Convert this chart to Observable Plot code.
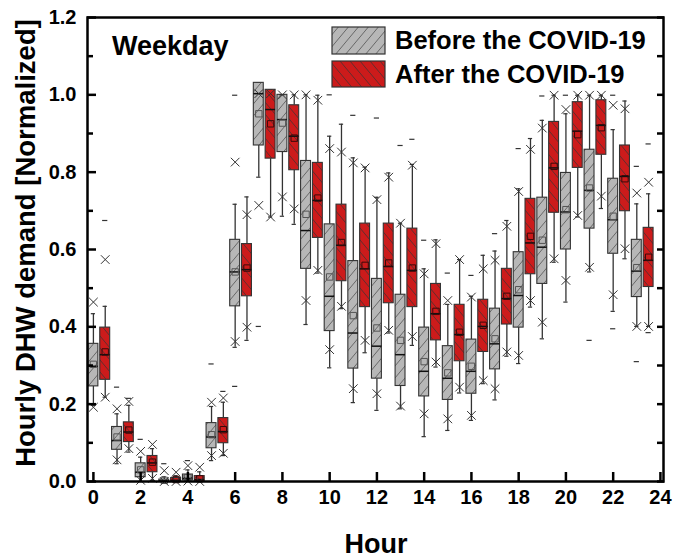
<!DOCTYPE html>
<html><head><meta charset="utf-8">
<script src="https://cdn.jsdelivr.net/npm/d3@7"></script>
<script src="https://cdn.jsdelivr.net/npm/@observablehq/plot@0.6"></script>
<style>
body{margin:0;background:#fff;}
#wrap{position:relative;width:688px;height:560px;font-family:Arial,"Liberation Sans",sans-serif;font-weight:bold;color:#000;overflow:hidden;}
.lbl{position:absolute;white-space:nowrap;line-height:1;}
</style></head><body><div id="wrap"></div>
<script>
// ---------- data ----------
const hours = [0,1,2,3,4,5,6,7,8,9,10,11,12,13,14,15,16,17,18,19,20,21,22,23];
const xTicks = [0,2,4,6,8,10,12,14,16,18,20,22,24];
const yTicksMajor = [0,0.2,0.4,0.6,0.8,1.0,1.2];
const yTicksMinor = [0.1,0.3,0.5,0.7,0.9,1.1];
const seriesNames = ["Before the COVID-19","After the COVID-19"];
const panelTitle = "Weekday";

// Before the COVID-19 (grey)
const beforeQ1   = [.246,.082,.011,.000,.003,.086,.453,.869,.852,.550,.389,.292,.266,.247,.220,.211,.227,.290,.398,.511,.600,.654,.589,.477];
const beforeQ3   = [.356,.141,.047,.005,.018,.151,.625,1.031,1.000,.829,.665,.570,.524,.483,.398,.350,.367,.447,.593,.734,.798,.858,.783,.625];
const beforeMed  = [.298,.106,.024,.002,.008,.115,.542,1.003,.936,.649,.479,.384,.350,.328,.285,.267,.285,.356,.481,.606,.697,.753,.677,.544];
const beforeMean = [.303,.115,.030,.003,.010,.121,.542,.951,.927,.691,.529,.429,.397,.365,.310,.281,.298,.369,.496,.624,.703,.759,.686,.553];
const beforeWLo  = [.197,.046,.000,.000,.000,.054,.347,.787,.686,.406,.294,.204,.184,.188,.116,.132,.158,.211,.305,.369,.464,.542,.440,.401];
const beforeWHi  = [.434,.175,.063,.012,.030,.194,.717,1.031,1.000,1.000,.893,.837,.735,.668,.550,.458,.479,.596,.757,.934,.951,.999,.910,.718];
const beforeXLo  = [.192,.056,.003,.000,.001,.067,.362,.714,.736,.468,.341,.240,.227,.195,.175,.162,.171,.240,.326,.412,.520,.554,.483,.401];
const beforeXHi  = [.464,.188,.078,.028,.041,.205,.826,1.003,1.000,1.000,.861,.824,.729,.668,.537,.468,.477,.572,.750,.914,.962,.999,.973,.746];
const beforeMax  = [null,.244,.109,.046,.054,.304,.999,null,1.000,null,1.000,.947,.940,.869,.624,.539,.533,.641,.861,.997,.999,null,.999,.815];
const beforeMin  = [null,null,null,null,null,null,.246,.401,null,null,null,null,null,null,null,null,null,null,null,null,null,.365,.395,.310];

// After the COVID-19 (red)
const afterQ1   = [.263,.102,.024,.000,.000,.099,.479,.835,.805,.630,.518,.451,.461,.451,.365,.311,.335,.406,.536,.695,.811,.845,.699,.503];
const afterQ3   = [.398,.153,.066,.009,.014,.164,.614,1.013,.973,.824,.716,.667,.667,.654,.511,.457,.470,.550,.731,.930,.981,.986,.869,.656];
const afterMed  = [.328,.128,.048,.003,.005,.129,.548,.962,.893,.727,.611,.550,.556,.546,.434,.380,.401,.473,.617,.811,.906,.921,.789,.572];
const afterMean = [.335,.133,.050,.005,.007,.134,.552,.925,.888,.733,.618,.559,.565,.552,.440,.386,.404,.479,.634,.815,.897,.915,.783,.580];
const afterWLo  = [.218,.076,.003,.000,.000,.067,.365,.684,.665,.539,.447,.333,.384,.352,.296,.229,.253,.324,.451,.567,.684,.706,.576,.401];
const afterWHi  = [.453,.197,.085,.015,.025,.205,.736,1.013,1.000,.999,.924,.813,.798,.820,.625,.574,.585,.675,.887,.999,.999,.999,.984,.744];
const afterXLo  = [.218,.085,.008,.000,.000,.073,.399,.684,.705,.546,.453,.365,.391,.375,.309,.244,.261,.335,.468,.576,.688,.738,.602,.401];
const afterXHi  = [.574,.207,.096,.024,.037,.216,.690,1.003,1.000,.986,.852,.811,.787,.818,.615,.574,.550,.660,.859,.999,.999,.999,.964,.774];
const afterMax  = [.675,.215,null,null,null,.233,null,null,null,null,null,null,null,.885,null,null,null,null,null,null,null,null,null,.873];
const afterMin  = [null,null,null,null,null,null,null,null,null,null,null,null,null,null,null,null,null,null,null,null,null,null,null,.385];

// ---------- build table ----------
const series = [
  {key:"before", off:0.0, q1:beforeQ1,q3:beforeQ3,med:beforeMed,mean:beforeMean,wLo:beforeWLo,wHi:beforeWHi,xLo:beforeXLo,xHi:beforeXHi,max:beforeMax,min:beforeMin},
  {key:"after",  off:0.5, q1:afterQ1,q3:afterQ3,med:afterMed,mean:afterMean,wLo:afterWLo,wHi:afterWHi,xLo:afterXLo,xHi:afterXHi,max:afterMax,min:afterMin}
];
const rows = [];
for (const s of series) hours.forEach((h,i) => rows.push({
  series:s.key, hour:h, pos:h+s.off,
  q1:s.q1[i], q3:s.q3[i], med:s.med[i], mean:s.mean[i],
  wLo:s.wLo[i], wHi:s.wHi[i], xLo:s.xLo[i], xHi:s.xHi[i], max:s.max[i], min:s.min[i]
}));
const before = rows.filter(d => d.series==="before");
const after = rows.filter(d => d.series==="after");

const HW = 0.21;   // half box width (hours)
const CW = 0.09;   // half whisker-cap width
const DW = 0.11;   // half min/max dash width
const GREY = "#b7b7b7", RED = "#cc1b1b", INK = "#333";

function patterns(suffix){
  return `<pattern id="hB${suffix}" patternUnits="userSpaceOnUse" width="10" height="12">
      <rect width="10" height="12" fill="${GREY}"/>
      <path d="M0,12L10,0M-10,12L0,0M10,12L20,0" stroke="#444" stroke-width="0.7"/></pattern>
    <pattern id="hA${suffix}" patternUnits="userSpaceOnUse" width="10" height="12">
      <rect width="10" height="12" fill="${RED}"/>
      <path d="M0,0L10,12M-10,0L0,12M10,0L20,12" stroke="#333" stroke-width="0.7"/></pattern>`;
}

const dash = (data, key) => Plot.ruleY(data.filter(d => d[key] != null), {
  y:key, x1:d=>d.pos-DW, x2:d=>d.pos+DW, stroke:INK, strokeWidth:1.2});

const chart = Plot.plot({
  width:688, height:560,
  marginLeft:87, marginRight:25, marginTop:17, marginBottom:79,
  x:{domain:[-0.25,24.13], axis:null},
  y:{domain:[0,1.2], axis:null},
  style:{fontFamily:'Arial,"Liberation Sans",sans-serif', fontWeight:"bold", fontSize:"20px", color:"#000", background:"#fff"},
  marks:[
    // whiskers
    Plot.ruleX(rows, {x:"pos", y1:"q3", y2:"wHi", stroke:INK, strokeWidth:1.3}),
    Plot.ruleX(rows, {x:"pos", y1:"wLo", y2:"q1", stroke:INK, strokeWidth:1.3}),
    Plot.ruleY(rows, {y:"wHi", x1:d=>d.pos-CW, x2:d=>d.pos+CW, stroke:INK, strokeWidth:1.2}),
    Plot.ruleY(rows, {y:"wLo", x1:d=>d.pos-CW, x2:d=>d.pos+CW, stroke:INK, strokeWidth:1.2}),
    // boxes
    Plot.rect(before, {x1:d=>d.pos-HW, x2:d=>d.pos+HW, y1:"q1", y2:"q3", fill:"url(#hBp)", stroke:INK, strokeWidth:1.1}),
    Plot.rect(after,  {x1:d=>d.pos-HW, x2:d=>d.pos+HW, y1:"q1", y2:"q3", fill:"url(#hAp)", stroke:INK, strokeWidth:1.1}),
    // medians
    Plot.ruleY(rows, {y:"med", x1:d=>d.pos-HW, x2:d=>d.pos+HW, stroke:"#111", strokeWidth:1.5}),
    // means
    Plot.dot(before, {x:"pos", y:"mean", symbol:"square", r:3.6, stroke:"#555", fill:"none", strokeWidth:1}),
    Plot.dot(after,  {x:"pos", y:"mean", symbol:"square", r:3.6, stroke:"#3a0a0a", fill:"none", strokeWidth:1}),
    // 1% / 99% crosses
    Plot.dot(rows, {x:"pos", y:"xHi", symbol:"times", r:4, stroke:INK, strokeWidth:1}),
    Plot.dot(rows, {x:"pos", y:"xLo", symbol:"times", r:4, stroke:INK, strokeWidth:1}),
    // min / max dashes
    dash(rows, "max"), dash(rows, "min"),
    // frame and axes (inward ticks)
    Plot.frame({stroke:"#000", strokeWidth:2.5}),
    Plot.axisY({ticks:yTicksMajor, tickSize:9, dx:9, fill:"none", label:null, strokeWidth:2.5}),
    Plot.axisY({ticks:yTicksMinor, tickSize:6, dx:6, fill:"none", label:null, strokeWidth:2.5}),
    Plot.axisY({anchor:"right", ticks:yTicksMajor.concat(yTicksMinor), tickSize:7, dx:-7, fill:"none", label:null, strokeWidth:2.5}),
    Plot.axisY({ticks:yTicksMajor, tickSize:0, tickPadding:11, tickFormat:d3.format(".1f"), label:null, fontSize:20, fontWeight:"bold"}),
    Plot.axisX({ticks:xTicks, tickSize:9, dy:-9, fill:"none", label:null, strokeWidth:2.5}),
    Plot.axisX({ticks:xTicks, tickSize:0, tickPadding:8, label:null, fontSize:20, fontWeight:"bold"})
  ]
});
const svgEl = chart.tagName.toLowerCase()==="svg" ? chart : chart.querySelector("svg");
const defs = document.createElementNS("http://www.w3.org/2000/svg","defs");
defs.innerHTML = patterns("p");
svgEl.insertBefore(defs, svgEl.firstChild);

const wrap = document.getElementById("wrap");
wrap.appendChild(chart);

function lbl(text, css){ const d=document.createElement("div"); d.className="lbl"; d.textContent=text; d.style.cssText += css; wrap.appendChild(d); return d; }

lbl(panelTitle, "left:112px;top:33px;font-size:27px;");
lbl("Hour", "left:376px;top:531px;font-size:27px;transform:translateX(-50%);");
lbl("Hourly DHW demand [Normalized]", "left:26px;top:243px;font-size:27.5px;transform:translate(-50%,-50%) rotate(-90deg);");

// legend
const leg = document.createElementNS("http://www.w3.org/2000/svg","svg");
leg.setAttribute("width","60"); leg.setAttribute("height","64");
leg.style.cssText = "position:absolute;left:330px;top:25px;";
leg.innerHTML = `<defs>${patterns("L")}</defs>
  <rect x="2" y="2" width="53" height="27" fill="url(#hBL)" stroke="${INK}" stroke-width="1.2"/>
  <rect x="2" y="36" width="53" height="26" fill="url(#hAL)" stroke="${INK}" stroke-width="1.2"/>`;
wrap.appendChild(leg);
lbl(seriesNames[0], "left:395px;top:28px;font-size:25.5px;");
lbl(seriesNames[1], "left:395px;top:62px;font-size:25.5px;");
</script></body></html>
